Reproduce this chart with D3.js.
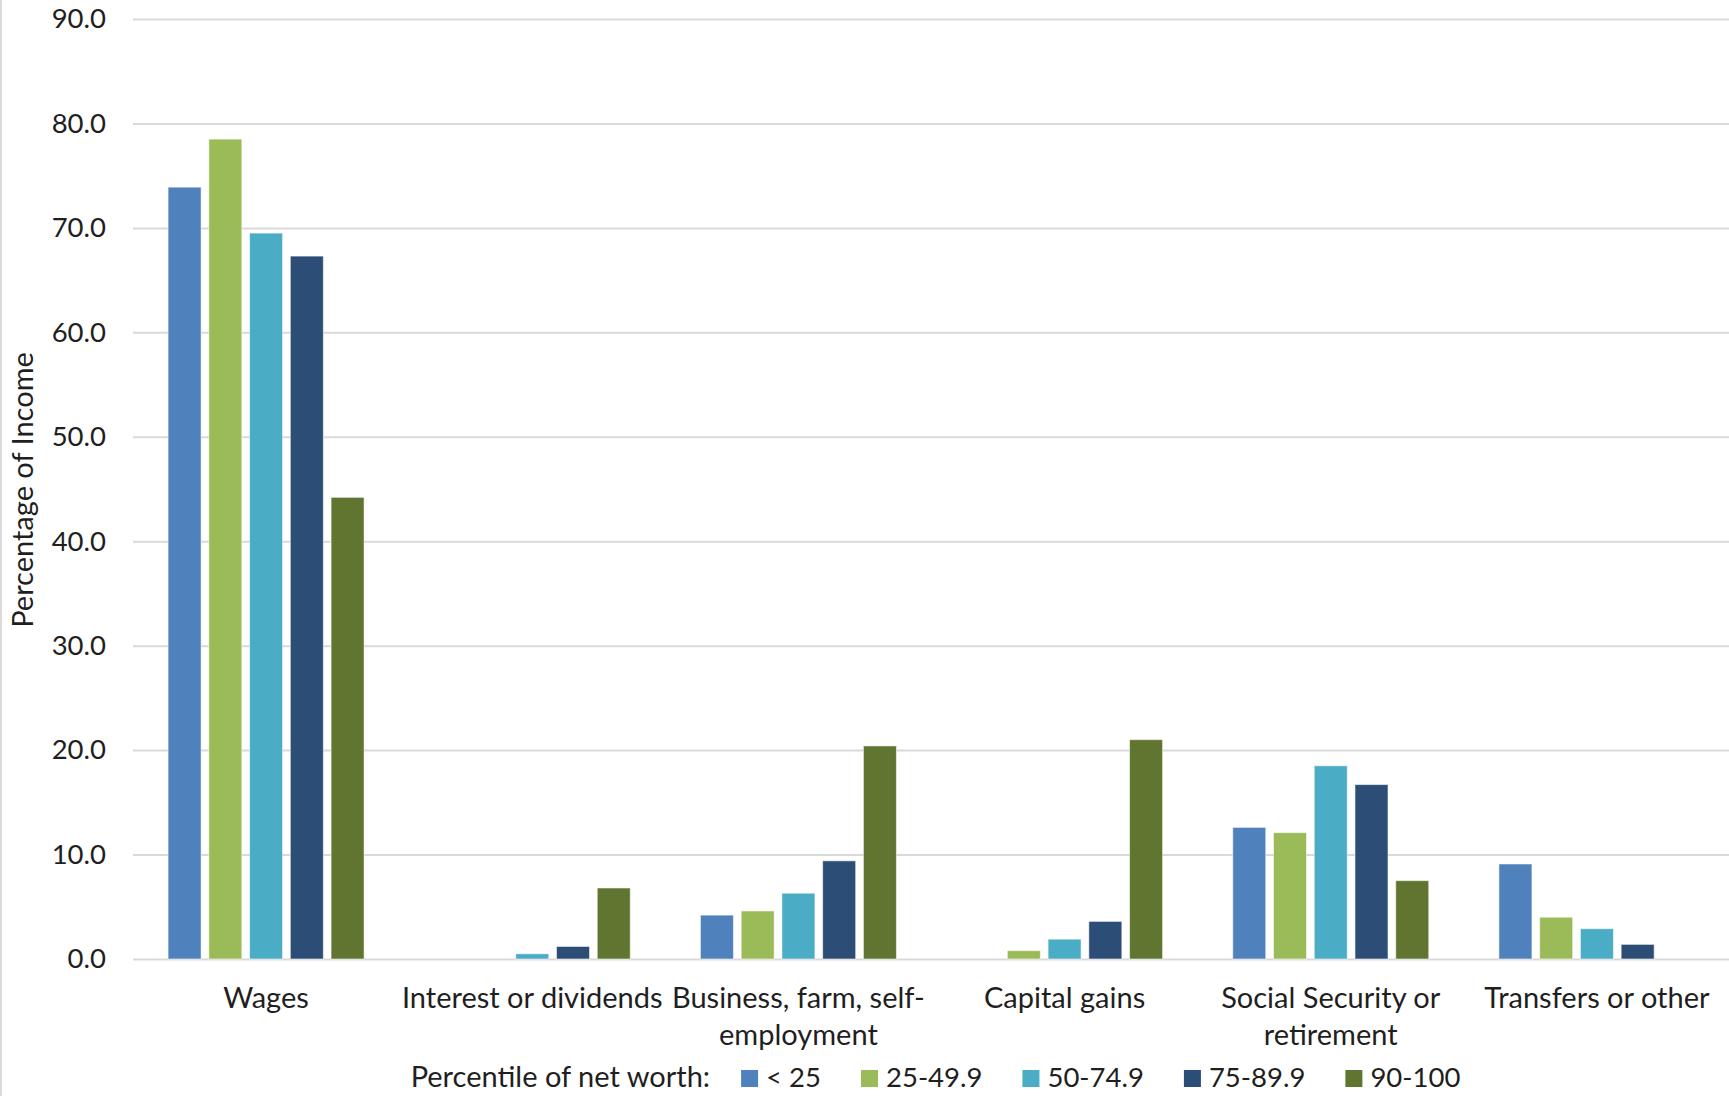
<!DOCTYPE html>
<html>
<head>
<meta charset="utf-8">
<script src="https://cdn.jsdelivr.net/npm/d3@7"></script>
<style>
  html, body { margin: 0; padding: 0; background: #ffffff; }
  svg { display: block; font-family: Lato, "Open Sans", sans-serif; }
</style>
</head>
<body>
<svg id="chart" width="1729" height="1096"></svg>
<script>
// Income sources by percentile of net worth (percentage of income)
const categories = [
  "Wages",
  "Interest or dividends",
  "Business, farm, self-employment",
  "Capital gains",
  "Social Security or retirement",
  "Transfers or other"
];
const seriesNames = ["< 25", "25-49.9", "50-74.9", "75-89.9", "90-100"];
const seriesColors = ["#4f81bd", "#9bbb59", "#4bacc6", "#2c4d75", "#60752f"];

// One array per percentile group, in category order (null = no bar)
const under25   = [73.9, null, 4.2, null, 12.6, 9.1];
const p25to49   = [78.5, null, 4.6, 0.8, 12.1, 4.0];
const p50to74   = [69.5, 0.5, 6.3, 1.9, 18.5, 2.9];
const p75to89   = [67.3, 1.2, 9.4, 3.6, 16.7, 1.4];
const p90to100  = [44.2, 6.8, 20.4, 21.0, 7.5, null];

const yTicks = [0, 10, 20, 30, 40, 50, 60, 70, 80, 90];
const yAxisTitle = "Percentage of Income";
const legendTitle = "Percentile of net worth:";

const seriesValues = [under25, p25to49, p50to74, p75to89, p90to100];

const svg = d3.select("#chart");
const W = 1729, H = 1096;
const plot = { left: 133, right: 1730, top: 19, bottom: 959 };
const textColor = "#1f1f1f";
const tickFont = 27.5;
const labelFont = 29;

svg.append("rect").attr("width", W).attr("height", H).attr("fill", "#ffffff");
// chart frame edge on the left
svg.append("line")
  .attr("x1", 1).attr("x2", 1).attr("y1", 0).attr("y2", H)
  .attr("stroke", "#d9d9d9").attr("stroke-width", 2);

const y = d3.scaleLinear().domain([0, 90]).range([plot.bottom, plot.top]);
const x0 = d3.scaleBand().domain(categories).range([plot.left, plot.right]).padding(0);
const groupWidth = 196;
const x1 = d3.scaleBand().domain(seriesNames).range([0, groupWidth]).paddingInner(0.19).paddingOuter(0);
const groupOffset = (x0.bandwidth() - groupWidth) / 2;

// gridlines + tick labels
const yAxis = d3.axisLeft(y)
  .tickValues(yTicks)
  .tickFormat(d3.format(".1f"))
  .tickSize(-(W - plot.left))
  .tickPadding(27);

const gy = svg.append("g")
  .attr("transform", `translate(${plot.left},0)`)
  .call(yAxis);
gy.select(".domain").remove();
gy.selectAll(".tick line").attr("stroke", "#d9d9d9").attr("stroke-width", 2);
gy.selectAll(".tick text")
  .attr("fill", textColor)
  .attr("font-size", tickFont)
  .attr("font-family", "Lato, sans-serif");

// bars
const rows = [];
categories.forEach((c, ci) => {
  seriesNames.forEach((s, si) => {
    const v = seriesValues[si][ci];
    if (v !== null) rows.push({ category: c, series: s, value: v, color: seriesColors[si] });
  });
});

svg.append("g").selectAll("rect")
  .data(rows)
  .join("rect")
  .attr("x", d => x0(d.category) + groupOffset + x1(d.series))
  .attr("width", x1.bandwidth())
  .attr("y", d => y(d.value))
  .attr("height", d => y(0) - y(d.value))
  .attr("fill", d => d.color)
  .attr("stroke", "#ffffff")
  .attr("stroke-opacity", 0.55)
  .attr("stroke-width", 1);

// category labels, wrapped to the band width
const labelMax = x0.bandwidth() + 4;
const labels = svg.append("g")
  .attr("font-size", labelFont)
  .attr("fill", textColor)
  .attr("text-anchor", "middle");

categories.forEach(cat => {
  const cx = x0(cat) + x0.bandwidth() / 2;
  const t = labels.append("text").attr("x", cx).attr("y", 1008);
  // split at spaces and after hyphens
  const parts = [];
  cat.replace(/([^\s-]+-?)(\s*)/g, (m, w, sp) => { parts.push({ w, sp }); return m; });
  const lines = [];
  let current = "";
  const probe = t.append("tspan");
  parts.forEach(p => {
    const candidate = current + p.w;
    probe.text(candidate);
    if (current && probe.node().getComputedTextLength() > labelMax) {
      lines.push(current.trim());
      current = p.w + p.sp;
    } else {
      current = candidate + p.sp;
    }
  });
  lines.push(current.trim());
  probe.remove();
  lines.forEach((ln, i) => {
    t.append("tspan")
      .attr("x", cx)
      .attr("dy", i === 0 ? 0 : 37)
      .text(ln);
  });
});

// y axis title
svg.append("text")
  .attr("transform", `translate(33,490) rotate(-90)`)
  .attr("text-anchor", "middle")
  .attr("font-size", labelFont)
  .attr("fill", textColor)
  .text(yAxisTitle);

// legend, centred under the plot
const legend = svg.append("g").attr("fill", textColor);
const baseY = 1087;
const titleText = legend.append("text").attr("y", baseY).attr("font-size", labelFont).text(legendTitle);
const titleW = titleText.node().getComputedTextLength();
const sw = 17, swGap = 8, itemGap = 40, titleGap = 31;
const items = seriesNames.map((s, i) => {
  const g = legend.append("g");
  g.append("rect").attr("y", baseY - sw).attr("width", sw).attr("height", sw).attr("fill", seriesColors[i]);
  const tx = g.append("text").attr("x", sw + swGap).attr("y", baseY).attr("font-size", tickFont).text(s);
  return { g, w: sw + swGap + tx.node().getComputedTextLength() };
});
const totalW = titleW + titleGap + d3.sum(items, d => d.w) + itemGap * (items.length - 1);
let lx = (plot.left + plot.right) / 2 + 4 - totalW / 2;
titleText.attr("x", lx);
lx += titleW + titleGap;
items.forEach(it => {
  it.g.attr("transform", `translate(${lx},0)`);
  lx += it.w + itemGap;
});
</script>
</body>
</html>
